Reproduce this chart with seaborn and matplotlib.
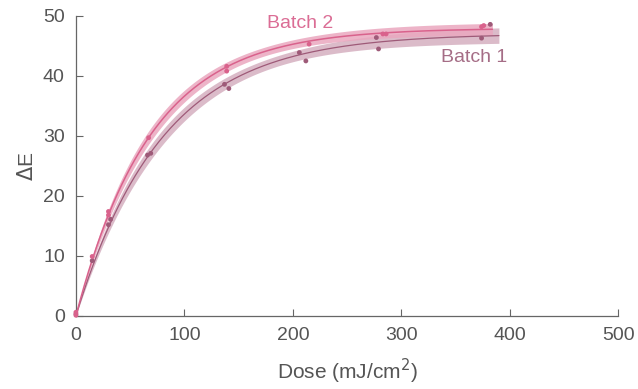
import matplotlib
matplotlib.use('Agg')
import matplotlib.pyplot as plt
import numpy as np
import pandas as pd
import seaborn as sns

batch1_dose = [0, 15, 30, 32, 66, 69, 137, 141, 206, 212, 277, 279, 374, 382]
batch1_de = [0.3, 9.2, 15.2, 16.1, 26.8, 27.1, 38.6, 37.9, 43.9, 42.5, 46.4, 44.5, 46.3, 48.6]
batch2_dose = [0, 0, 15, 30, 30, 67, 139, 139, 215, 283, 286, 374, 376]
batch2_de = [0.6, 0.1, 9.9, 17.4, 16.8, 29.7, 41.6, 40.8, 45.3, 47.0, 47.0, 48.2, 48.4]

batch_names = ['Batch 1', 'Batch 2']
fit_end = [390, 384]
x_ticks = [0, 100, 200, 300, 400, 500]
y_ticks = [0, 10, 20, 30, 40, 50]

line_cols = {'Batch 1': '#9e5a78', 'Batch 2': '#d9628c'}
band_cols = {'Batch 1': '#d5b0c0', 'Batch 2': '#eaa7bf'}
text_cols = {'Batch 1': '#a56d86', 'Batch 2': '#db6d95'}
# widen the fit bands to look like the original figure
band_mult = {'Batch 1': 2.8, 'Batch 2': 4.3}


def fit_saturation(x, y):
    # E = A * (1 - exp(-D / k)); grid search k, least squares A
    x = np.asarray(x, float)
    y = np.asarray(y, float)
    best = None
    for k in np.arange(20, 200, 0.05):
        g = 1 - np.exp(-x / k)
        A = (g @ y) / (g @ g)
        sse = np.sum((y - A * g) ** 2)
        if best is None or sse < best[0]:
            best = (sse, A, k)
    sse, A, k = best
    J = np.column_stack([1 - np.exp(-x / k), -A * x / k ** 2 * np.exp(-x / k)])
    s2 = sse / (len(x) - 2)
    cov = s2 * np.linalg.inv(J.T @ J)
    return A, k, cov


data = pd.concat([
    pd.DataFrame({'dose': batch1_dose, 'de': batch1_de, 'batch': 'Batch 1'}),
    pd.DataFrame({'dose': batch2_dose, 'de': batch2_de, 'batch': 'Batch 2'}),
])

sns.set_style('white')
plt.rcParams['font.family'] = ['Liberation Sans', 'DejaVu Sans']

fig = plt.figure(figsize=(6.38, 3.89), dpi=100)
ax = fig.add_axes([0.119, 0.188, 0.85, 0.771])

for name, xend in zip(batch_names, fit_end):
    sub = data[data['batch'] == name]
    A, k, cov = fit_saturation(sub['dose'], sub['de'])
    xx = np.linspace(0, xend, 300)
    yy = A * (1 - np.exp(-xx / k))
    G = np.column_stack([1 - np.exp(-xx / k), -A * xx / k ** 2 * np.exp(-xx / k)])
    se = np.sqrt(np.einsum('ij,jk,ik->i', G, cov, G))
    half = band_mult[name] * se
    ax.fill_between(xx, yy - half, yy + half, color=band_cols[name], lw=0,
                    alpha=0.85, zorder=1)
    sns.lineplot(x=xx, y=yy, color=line_cols[name], lw=1.1 if name == 'Batch 2' else 0.9,
                 ax=ax, zorder=3)

for name in batch_names:
    sub = data[data['batch'] == name]
    sns.scatterplot(data=sub, x='dose', y='de', color=line_cols[name], s=12,
                    edgecolor='none', ax=ax, zorder=4, clip_on=False)

ax.text(207, 48.7, 'Batch 2', color=text_cols['Batch 2'], fontsize=14,
        ha='center', va='center')
ax.text(367, 43.0, 'Batch 1', color=text_cols['Batch 1'], fontsize=14,
        ha='center', va='center')

ax.set_xlim(0, 500)
ax.set_ylim(0, 50)
ax.set_xticks(x_ticks)
ax.set_yticks(y_ticks)
ax.set_xlabel('Dose (mJ/cm$^2$)', fontsize=15, color='#555555', labelpad=9)
ax.set_ylabel('$\\Delta$E', fontsize=15, color='#555555', labelpad=4)
ax.tick_params(direction='in', length=5, width=0.8, colors='#666666',
               labelcolor='#555555', labelsize=14, pad=8,
               bottom=True, left=True)
sns.despine(ax=ax)
for side in ['left', 'bottom']:
    ax.spines[side].set_color('#666666')
    ax.spines[side].set_linewidth(0.9)

fig.savefig('out.png', dpi=100)
